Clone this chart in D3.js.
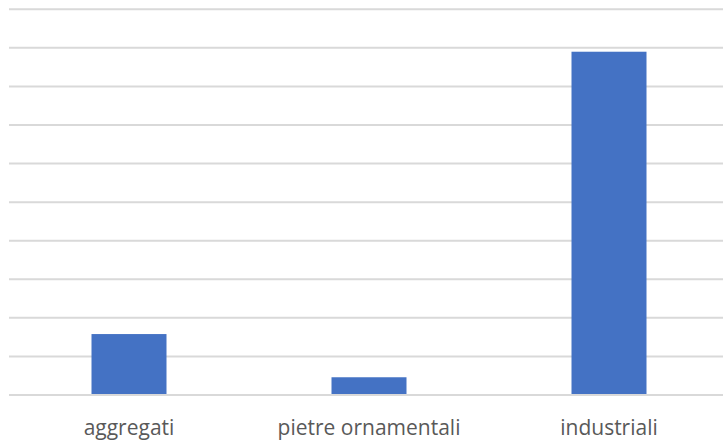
<!DOCTYPE html>
<html><head><meta charset="utf-8">
<script src="https://cdn.jsdelivr.net/npm/d3@7"></script>
<style>body{margin:0;background:#fff;}svg{display:block;}</style>
</head><body>
<script>
const categories = ["aggregati", "pietre ornamentali", "industriali"];
const values = [1.58, 0.46, 8.9];
const gridTicks = [0,1,2,3,4,5,6,7,8,9,10];

const W = 723, H = 441;
const svg = d3.select("body").append("svg").attr("width", W).attr("height", H);
const x = d3.scaleBand().domain(categories).range([9, 729]).paddingInner(0.6875).paddingOuter(0.34375);
const y = d3.scaleLinear().domain([0, 10]).range([395, 9.3]);

svg.append("g").selectAll("line").data(gridTicks).join("line")
  .attr("x1", 9).attr("x2", W)
  .attr("y1", d => y(d)).attr("y2", d => y(d))
  .attr("stroke", "#d9d9d9").attr("stroke-width", 2);

svg.append("g").selectAll("rect").data(values).join("rect")
  .attr("x", (d,i) => x(categories[i]))
  .attr("width", x.bandwidth())
  .attr("y", d => y(d))
  .attr("height", d => y(0) - y(d) - 1)
  .attr("fill", "#4472c4");

svg.append("g").selectAll("text").data(categories).join("text")
  .attr("x", d => x(d) + x.bandwidth()/2)
  .attr("y", 435)
  .attr("text-anchor", "middle")
  .attr("font-family", "'Open Sans', 'Noto Sans', sans-serif")
  .attr("font-size", 21)
  .attr("fill", "#595959")
  .text(d => d);
</script>
</body></html>
